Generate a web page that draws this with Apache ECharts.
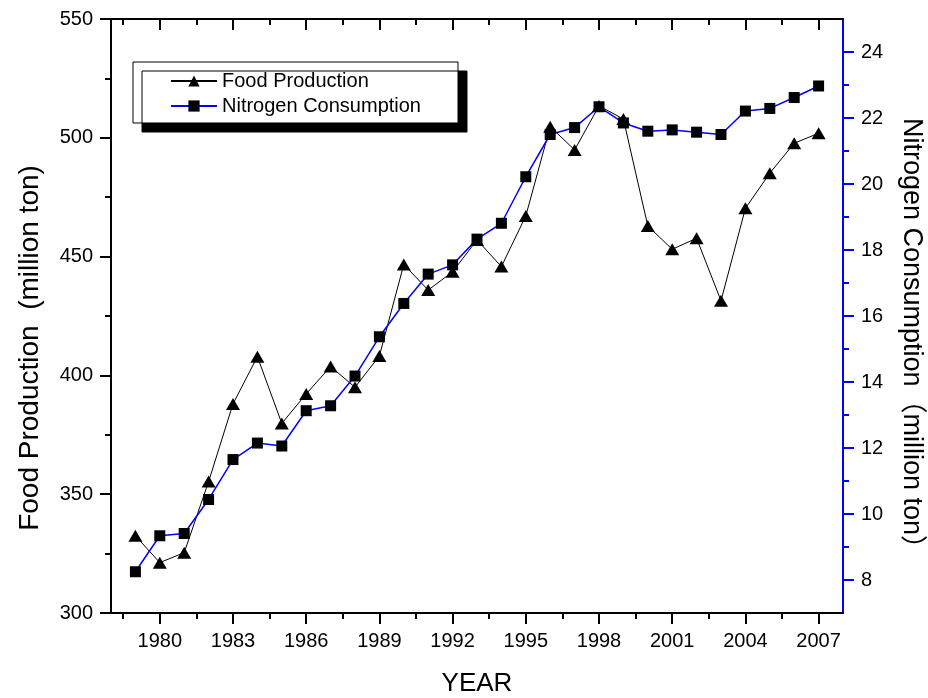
<!DOCTYPE html>
<html>
<head>
<meta charset="utf-8">
<script src="https://cdn.jsdelivr.net/npm/echarts@6/dist/echarts.min.js"></script>
<style>
  html, body { margin: 0; padding: 0; background: #fff; }
  #chart { width: 928px; height: 698px; }
</style>
</head>
<body>
<div id="chart"></div>
<script>
// years on the x axis
var years = [1979, 1980, 1981, 1982, 1983, 1984, 1985, 1986, 1987, 1988,
             1989, 1990, 1991, 1992, 1993, 1994, 1995, 1996, 1997, 1998,
             1999, 2000, 2001, 2002, 2003, 2004, 2005, 2006, 2007];
// Food Production (million ton), left axis
var food = [332.5, 321.2, 325.4, 355.3, 388.0, 407.9, 379.8, 392.2, 403.7, 395.0,
            408.2, 446.7, 435.9, 443.6, 457.0, 445.8, 467.1, 504.7, 494.9, 513.4,
            507.9, 462.9, 453.1, 457.7, 431.4, 470.3, 485.1, 497.7, 501.9];
// Nitrogen Consumption (million ton), right axis
var nitrogen = [8.25, 9.34, 9.41, 10.44, 11.65, 12.15, 12.06, 13.13, 13.28, 14.18,
                15.37, 16.38, 17.27, 17.55, 18.33, 18.81, 20.22, 21.5, 21.71, 22.34,
                21.85, 21.6, 21.64, 21.57, 21.5, 22.21, 22.29, 22.62, 22.97];

// tick labels
var yearTicks = [1980, 1983, 1986, 1989, 1992, 1995, 1998, 2001, 2004, 2007];
var yearMinor = [1978.5, 1981.5, 1984.5, 1987.5, 1990.5, 1993.5, 1996.5, 1999.5, 2002.5, 2005.5];
var nTicks = [8, 10, 12, 14, 16, 18, 20, 22, 24];
var nMinor = [9, 11, 13, 15, 17, 19, 21, 23];

var FONT = "'Liberation Sans', Arial, 'Noto Sans CJK SC', sans-serif";

function plain(v) { return String(v); }

function xAx(pos, values, len, inside, extra) {
  var a = {
    type: 'value', position: pos, min: 1978, max: 2008,
    axisLine: { show: false, onZero: false },
    axisTick: { customValues: values, length: len, inside: inside,
                lineStyle: { color: '#000', width: 2 } },
    axisLabel: { show: false },
    splitLine: { show: false }
  };
  return Object.assign(a, extra || {});
}

var option = {
  backgroundColor: '#fff',
  animation: false,
  textStyle: { fontFamily: FONT },
  grid: { left: 111, right: 85, top: 19, bottom: 85, outerBoundsMode: 'none', containLabel: false },
  legend: {
    orient: 'vertical',
    left: 133, top: 62,
    padding: [9, 37, 7, 37],
    itemGap: 5,
    itemWidth: 46, itemHeight: 14,
    backgroundColor: '#fff',
    borderColor: '#000', borderWidth: 1,
    shadowColor: '#000', shadowBlur: 0, shadowOffsetX: 9, shadowOffsetY: 9,
    textStyle: { fontSize: 20, color: '#000', fontFamily: FONT },
    data: ['Food Production', 'Nitrogen Consumption']
  },
  xAxis: [
    xAx('bottom', yearTicks, 11, false, {
      name: 'YEAR', nameLocation: 'middle', nameGap: 58,
      nameTextStyle: { fontSize: 26, color: '#000', fontFamily: FONT },
      axisLine: { show: true, onZero: false, lineStyle: { color: '#000', width: 2 } },
      axisLabel: { customValues: yearTicks, formatter: plain, margin: 18, fontSize: 20, color: '#000', fontFamily: FONT }
    }),
    xAx('bottom', yearMinor, 6, false),
    xAx('top', yearTicks, 11, true, {
      axisLine: { show: true, onZero: false, lineStyle: { color: '#000', width: 2 } }
    }),
    xAx('top', yearMinor, 6, true)
  ],
  yAxis: [
    {
      type: 'value', position: 'left', min: 300, max: 550, interval: 50,
      name: 'Food Production  (million ton)', nameLocation: 'middle', nameGap: 67,
      nameTextStyle: { fontSize: 28, color: '#000', fontFamily: FONT, padding: [0, 64, 0, 0] },
      axisLine: { show: true, lineStyle: { color: '#000', width: 2 } },
      axisTick: { length: 11, lineStyle: { color: '#000', width: 2 } },
      minorTick: { show: true, splitNumber: 2, length: 6, lineStyle: { color: '#000', width: 2 } },
      axisLabel: { formatter: plain, margin: 18, fontSize: 20, color: '#000', fontFamily: FONT },
      splitLine: { show: false }
    },
    {
      type: 'value', position: 'right', min: 7, max: 25,
      name: 'Nitrogen Consumption（million ton）', nameLocation: 'middle', nameGap: 55,
      nameRotate: -90,
      nameTextStyle: { fontSize: 27, color: '#000', fontFamily: FONT, padding: [0, 0, 0, 48] },
      axisLine: { show: true, lineStyle: { color: '#0000ff', width: 2 } },
      axisTick: { customValues: nTicks, length: 11, lineStyle: { color: '#0000ff', width: 2 } },
      axisLabel: { customValues: nTicks, formatter: plain, margin: 18, fontSize: 20, color: '#000', fontFamily: FONT },
      splitLine: { show: false }
    },
    {
      type: 'value', position: 'right', min: 7, max: 25,
      axisLine: { show: false },
      axisTick: { customValues: nMinor, length: 6, lineStyle: { color: '#0000ff', width: 2 } },
      axisLabel: { show: false },
      splitLine: { show: false }
    }
  ],
  series: [
    {
      name: 'Food Production',
      type: 'line',
      xAxisIndex: 0, yAxisIndex: 0,
      data: years.map(function (y, i) { return [y, food[i]]; }),
      symbol: 'triangle', symbolSize: [14, 12],
      lineStyle: { color: '#000', width: 1 },
      itemStyle: { color: '#000' }
    },
    {
      name: 'Nitrogen Consumption',
      type: 'line',
      xAxisIndex: 0, yAxisIndex: 1,
      data: years.map(function (y, i) { return [y, nitrogen[i]]; }),
      symbol: 'rect', symbolSize: 11,
      lineStyle: { color: '#0000ff', width: 1.5 },
      itemStyle: { color: '#000' }
    }
  ]
};

var chart = echarts.init(document.getElementById('chart'));
chart.setOption(option);
window.addEventListener('resize', function () { chart.resize(); });
</script>
</body>
</html>
